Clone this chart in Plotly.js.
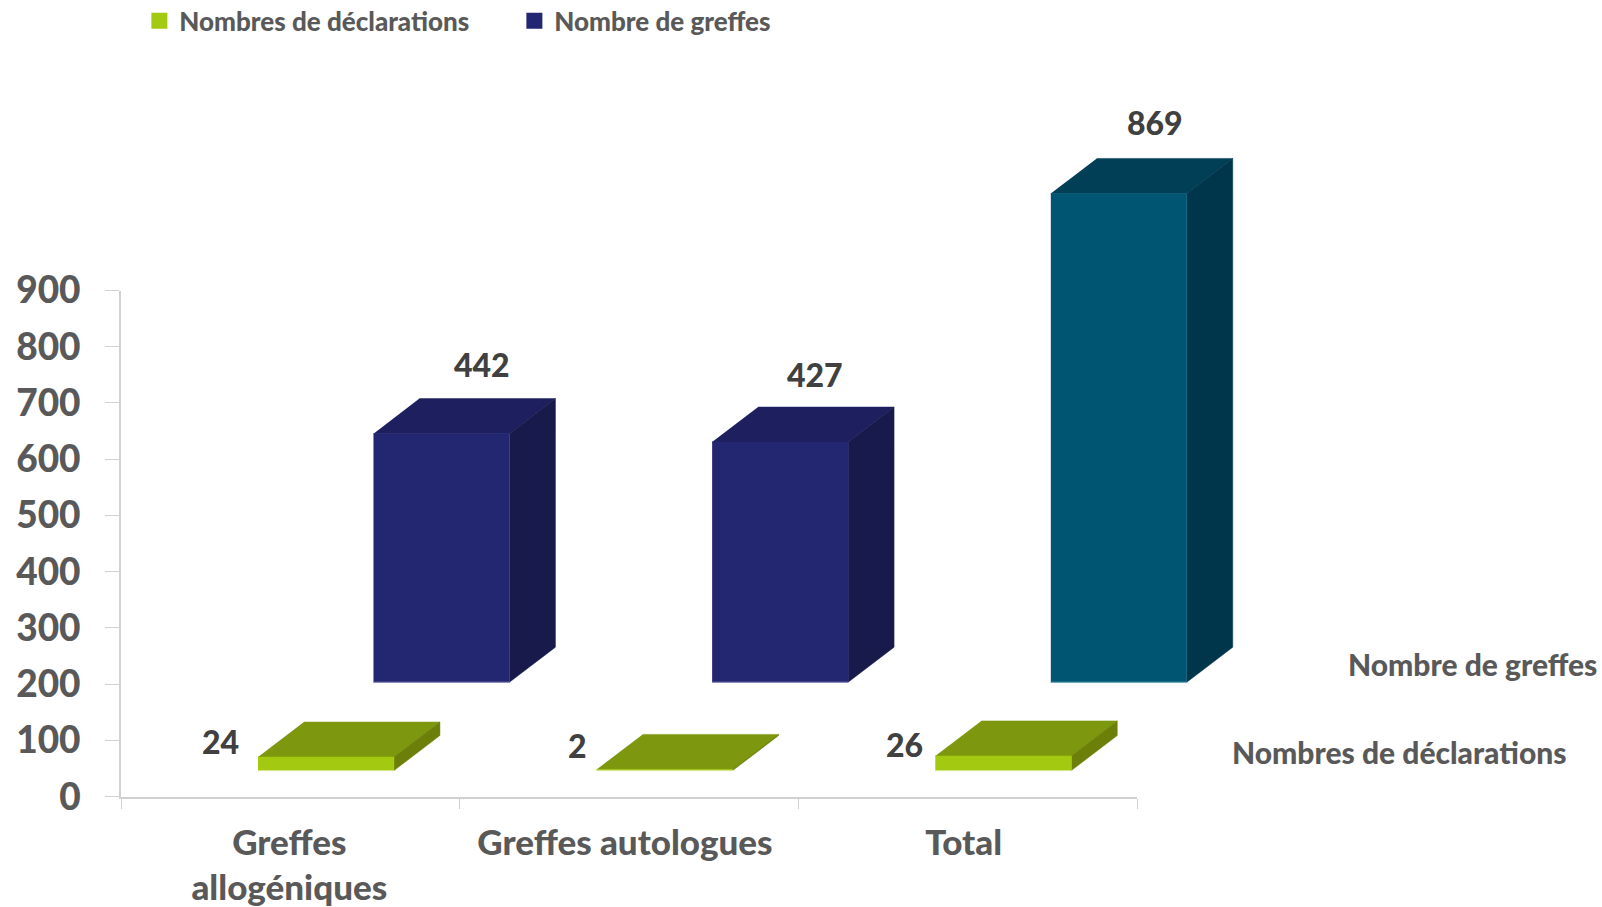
<!DOCTYPE html>
<html><head><meta charset="utf-8">
<script src="https://cdn.plot.ly/plotly-3.0.1.min.js"></script>
<style>html,body{margin:0;padding:0;background:#fff;overflow:hidden}#c{width:1602px;height:907px}</style>
</head><body><div id="c"></div>
<script>
const categories = ['Greffes<br>allogéniques', 'Greffes autologues', 'Total'];
const seriesNames = ['Nombres de déclarations', 'Nombre de greffes'];
const declarations = [24, 2, 26];
const greffes = [442, 427, 869];
const yTicks = [0, 100, 200, 300, 400, 500, 600, 700, 800, 900];

// Canvas and visible axis frame, pixels
const W = 1602, H = 907, AX_L = 121, AX_R = 1137, AX_T = 290.5, AX_B = 796.7;
const PX_PER_CAT = (AX_R - AX_L) / 3, PX_PER_UNIT = (AX_B - AX_T) / 900;

// Pseudo-3D projection, in axis units
const BAR_W = 0.4015, START = 0.4045, SERIES_DX = 0.341, SERIES_DY = 157;
const DEPTH_DX = 0.1357, DEPTH_DY = 62.3, BASE0 = 46.5;
const palette = {
  green: {front:'#a3c910', top:'#7d980f', side:'#6b7f09', edge:'#d6e58c'},
  navy:  {front:'#232670', top:'#1d1f5e', side:'#181a4c', edge:'#8a8cc0'},
  teal:  {front:'#005572', top:'#003f56', side:'#00364b', edge:'#70a8bc'}
};
const traces = [];
function face(xs, ys, color) {
  traces.push({type:'scatter', mode:'lines', xaxis:'x2', yaxis:'y2', x:xs, y:ys, fill:'toself', fillcolor:color,
    line:{width:0.5, color:color}, showlegend:false, hoverinfo:'skip'});
}
const annotations = [];
function bar(cat, s, v, c) {
  const x0 = cat + START + s * SERIES_DX, x1 = x0 + BAR_W;
  const b = BASE0 + s * SERIES_DY, t = b + v;
  face([x0+DEPTH_DX, x1+DEPTH_DX, x1, x0], [t+DEPTH_DY, t+DEPTH_DY, t, t], c.top);
  face([x1, x1+DEPTH_DX, x1+DEPTH_DX, x1], [b, b+DEPTH_DY, t+DEPTH_DY, t], c.side);
  face([x0, x1, x1, x0], [b, b, t, t], c.front);
  traces.push({type:'scatter', mode:'lines', xaxis:'x2', yaxis:'y2', x:[x0,x1], y:[b,b], line:{width:1, color:c.edge},
    showlegend:false, hoverinfo:'skip'});
  return {x0, x1, b, t};
}
const labelShiftGreen = [[-37,-16],[-19,-24],[-31,-11]];
const labelShiftNavy = [[-5,-34],[-11,-33],[-10,-36]];
function label(x, y, v, sh) {
  annotations.push({xref:'x2', yref:'y2', x:x, y:y, text:String(v), showarrow:false,
    xanchor:'center', yanchor:'middle', xshift:sh[0], yshift:-sh[1],
    font:{family:'Lato', size:32, color:'#404040', weight:900}});
}
categories.forEach((_, i) => {
  const g = bar(i, 0, declarations[i], palette.green);
  label(g.x0, g.t, declarations[i], labelShiftGreen[i]);
});
categories.forEach((_, i) => {
  const n = bar(i, 1, greffes[i], i === 2 ? palette.teal : palette.navy);
  label((n.x0+n.x1)/2 + DEPTH_DX, n.t + DEPTH_DY, greffes[i], labelShiftNavy[i]);
});
// Visible axes and legend entries
traces.unshift({type:'scatter', mode:'markers', xaxis:'x', yaxis:'y', x:[null], y:[null], name:seriesNames[1],
  marker:{symbol:'square', size:16, color:palette.navy.front}});
traces.unshift({type:'scatter', mode:'markers', xaxis:'x', yaxis:'y', x:[null], y:[null], name:seriesNames[0],
  marker:{symbol:'square', size:16, color:palette.green.front}});
// Depth-axis labels
[[3.992, 236, seriesNames[1]], [3.776, 80, seriesNames[0]]].forEach(a => {
  annotations.push({xref:'x2', yref:'y2', x:a[0], y:a[1], text:a[2], showarrow:false,
    xanchor:'center', yanchor:'middle', font:{family:'Lato', size:30, color:'#595959', weight:900}});
});

const layout = {
  width:W, height:H, paper_bgcolor:'#fff', plot_bgcolor:'rgba(0,0,0,0)',
  margin:{l:0, r:0, t:0, b:0, pad:0, autoexpand:false},
  showlegend:true,
  legend:{orientation:'h', x:0.087, y:1.003, xanchor:'left', yanchor:'top',
    font:{family:'Lato', size:26, color:'#595959', weight:900}, bgcolor:'rgba(0,0,0,0)',
    entrywidthmode:'pixels', entrywidth:330, itemclick:false, traceorder:'normal'},
  xaxis:{type:'linear', domain:[AX_L/W, AX_R/W], anchor:'y', range:[0,3], tickmode:'array', tickvals:[0.497,1.488,2.488],
    ticktext:categories,
    ticks:'', showgrid:false, zeroline:false, showline:true, linecolor:'#d0d0d0', linewidth:2,
    tickfont:{family:'Lato', size:35, color:'#595959', weight:900}, ticklabelstandoff:14,
    minor:{tickmode:'array', tickvals:[0,1,2,3], ticks:'outside', ticklen:10, tickcolor:'#d0d0d0', tickwidth:1, showgrid:false}},
  yaxis:{type:'linear', domain:[(H-AX_B)/H, (H-AX_T)/H], anchor:'x', range:[0,900], tickmode:'array', tickvals:yTicks,
    ticktext:yTicks.map(String),
    ticks:'outside', ticklen:14, tickcolor:'#d0d0d0', tickwidth:1, showgrid:false, zeroline:false,
    showline:true, linecolor:'#d0d0d0', linewidth:2,
    tickfont:{family:'Lato', size:37, color:'#595959', weight:900}, ticklabelstandoff:17},
  xaxis2:{domain:[0,1], anchor:'y2', range:[-AX_L/PX_PER_CAT, (W-AX_L)/PX_PER_CAT], visible:false, fixedrange:true},
  yaxis2:{domain:[0,1], anchor:'x2', range:[-(H-AX_B)/PX_PER_UNIT, AX_B/PX_PER_UNIT], visible:false, fixedrange:true},
  annotations
};
Plotly.newPlot('c', traces, layout, {displayModeBar:false, staticPlot:true});
</script></body></html>
